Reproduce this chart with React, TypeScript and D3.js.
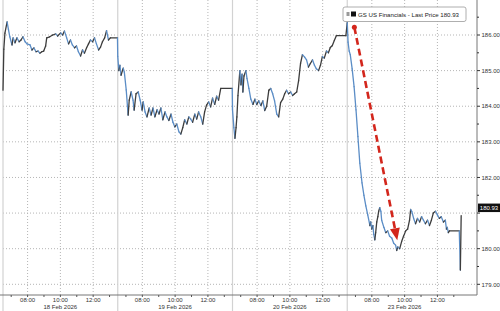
import React from "react";
import * as d3 from "d3";

const dayLabels = ["18 Feb 2026", "19 Feb 2026", "20 Feb 2026", "23 Feb 2026"];
const hourLabels = ["08:00", "10:00", "12:00"];
const priceTicks = [179, 180, 182, 183, 184, 185, 186];
const gridPrices = [179, 180, 181, 182, 183, 184, 185, 186];
const seriesName = "GS US Financials - Last Price";
const lastPrice = 180.93;

const day1: [string, number][] = [
  ["06:30", 184.45], ["06:33", 185.6], ["06:37", 186.05], ["06:45", 186.37], ["06:50", 186.15],
  ["06:55", 185.95], ["07:03", 185.72], ["07:07", 185.92], ["07:14", 185.78], ["07:21", 185.92],
  ["07:29", 185.81], ["07:36", 185.86], ["07:43", 185.95], ["07:51", 185.81], ["07:58", 185.75],
  ["08:09", 185.72], ["08:16", 185.58], ["08:23", 185.64], ["08:31", 185.53], ["08:38", 185.55],
  ["08:45", 185.49], ["08:52", 185.53], ["08:59", 185.55], ["09:06", 185.69], ["09:10", 185.92],
  ["09:21", 185.95], ["09:32", 186.0], ["09:43", 186.03], ["09:50", 185.97], ["10:01", 186.06],
  ["10:08", 186.0], ["10:15", 186.11], ["10:23", 185.92], ["10:30", 185.75], ["10:37", 185.86],
  ["10:44", 185.72], ["10:52", 185.64], ["10:59", 185.69], ["11:06", 185.53], ["11:14", 185.41],
  ["11:21", 185.58], ["11:28", 185.49], ["11:36", 185.64], ["11:43", 185.75], ["11:50", 185.86],
  ["11:58", 185.81], ["12:05", 185.92], ["12:12", 185.75], ["12:20", 185.58], ["12:27", 185.66],
  ["12:34", 185.81], ["12:42", 185.92], ["12:49", 186.12], ["12:56", 185.86], ["13:03", 185.92],
  ["13:29", 185.92],
];

const day2: [string, number][] = [
  ["06:30", 185.4], ["06:34", 185.0], ["06:38", 185.15], ["06:42", 184.87], ["06:50", 185.07],
  ["06:54", 184.96], ["07:01", 184.46], ["07:08", 183.75], ["07:12", 184.17], ["07:19", 184.4],
  ["07:26", 184.17], ["07:30", 183.89], ["07:37", 184.35], ["07:45", 184.4], ["07:52", 184.17],
  ["07:59", 183.89], ["08:03", 184.12], ["08:10", 183.84], ["08:17", 183.7], ["08:25", 183.95],
  ["08:32", 183.75], ["08:39", 183.95], ["08:46", 183.7], ["08:54", 183.9], ["09:01", 183.78],
  ["09:08", 183.95], ["09:15", 183.62], ["09:23", 183.84], ["09:30", 183.7], ["09:37", 183.6],
  ["09:45", 183.78], ["09:52", 183.55], ["09:59", 183.42], ["10:06", 183.5], ["10:14", 183.28],
  ["10:21", 183.22], ["10:28", 183.4], ["10:35", 183.62], ["10:43", 183.5], ["10:50", 183.7],
  ["10:57", 183.64], ["11:04", 183.55], ["11:12", 183.78], ["11:19", 183.64], ["11:26", 183.84],
  ["11:34", 183.7], ["11:41", 183.5], ["11:48", 183.84], ["11:55", 184.03], ["12:03", 184.12],
  ["12:10", 183.98], ["12:17", 184.23], ["12:25", 184.05], ["12:32", 184.28], ["12:39", 184.17],
  ["12:47", 184.5], ["13:29", 184.5],
];

const day3: [string, number][] = [
  ["06:30", 183.9], ["06:35", 183.4], ["06:39", 183.1], ["06:43", 183.4], ["06:46", 183.7],
  ["06:50", 184.3], ["06:57", 185.0], ["07:01", 184.6], ["07:05", 184.9], ["07:08", 184.4],
  ["07:12", 184.85], ["07:19", 185.0], ["07:23", 184.78], ["07:30", 184.5], ["07:37", 184.2],
  ["07:45", 184.05], ["07:52", 184.2], ["07:59", 184.05], ["08:06", 184.15], ["08:14", 184.02],
  ["08:21", 184.15], ["08:28", 183.88], ["08:35", 184.0], ["08:43", 184.45], ["08:50", 184.5],
  ["08:57", 184.35], ["09:04", 184.15], ["09:12", 183.78], ["09:19", 183.7], ["09:26", 184.1],
  ["09:34", 184.2], ["09:41", 184.35], ["09:48", 184.45], ["09:55", 184.35], ["10:03", 184.4],
  ["10:10", 184.3], ["10:17", 184.35], ["10:25", 184.4], ["10:32", 184.72], ["10:39", 185.2],
  ["10:46", 185.45], ["10:54", 185.38], ["11:01", 185.3], ["11:08", 185.1], ["11:15", 185.2],
  ["11:23", 185.3], ["11:30", 185.15], ["11:37", 185.05], ["11:45", 185.0], ["11:52", 185.15],
  ["11:59", 185.4], ["12:06", 185.35], ["12:14", 185.55], ["12:21", 185.5], ["12:28", 185.65],
  ["12:35", 185.7], ["12:43", 185.85], ["12:50", 185.98], ["13:25", 185.98],
];

const day4: [string, number][] = [
  ["06:30", 186.35], ["06:33", 185.8], ["06:37", 185.55], ["06:41", 185.45], ["06:48", 185.05],
  ["06:55", 184.55], ["07:02", 183.9], ["07:09", 183.15], ["07:16", 182.4], ["07:24", 181.85],
  ["07:31", 181.5], ["07:38", 181.2], ["07:45", 180.95], ["07:53", 180.65], ["07:56", 180.75],
  ["08:00", 180.55], ["08:04", 180.65], ["08:07", 180.4], ["08:11", 180.25], ["08:14", 180.45],
  ["08:18", 180.75], ["08:22", 180.9], ["08:25", 181.05], ["08:29", 181.15], ["08:33", 181.05],
  ["08:36", 180.8], ["08:44", 180.6], ["08:51", 180.45], ["08:58", 180.5], ["09:05", 180.35],
  ["09:13", 180.3], ["09:20", 180.15], ["09:27", 180.1], ["09:31", 179.95], ["09:35", 180.05],
  ["09:42", 180.0], ["09:49", 180.2], ["09:56", 180.35], ["10:04", 180.5], ["10:11", 180.55],
  ["10:18", 180.8], ["10:22", 181.1], ["10:26", 181.05], ["10:33", 180.85], ["10:40", 180.7],
  ["10:47", 180.85], ["10:55", 180.75], ["11:02", 180.9], ["11:09", 180.8], ["11:16", 180.7],
  ["11:24", 180.8], ["11:31", 180.65], ["11:38", 180.8], ["11:45", 181.0], ["11:53", 181.05],
  ["12:00", 180.95], ["12:07", 180.85], ["12:14", 180.9], ["12:22", 180.75], ["12:29", 180.8],
  ["12:33", 180.55], ["12:36", 180.6], ["12:40", 180.45], ["12:44", 180.5], ["13:20", 180.5],
  ["13:24", 179.4], ["13:27", 180.93],
];

const days = [day1, day2, day3, day4];

// annotation arrow in data coordinates: [dayIndex, time, price]
const arrowStart: [number, string, number] = [3, "06:56", 186.22];
const arrowEnd: [number, string, number] = [3, "09:33", 180.24];

const W = 500;
const H = 311;
const OPEN = 6.5;
const DAY_LEN = 7;

const toT = (d: number, time: string) => {
  const [h, m] = time.split(":").map(Number);
  return d * DAY_LEN + (h + m / 60 - OPEN);
};

export default function App() {
  const x = d3.scaleLinear().domain([0, DAY_LEN * days.length]).range([3, 462]);
  const y = d3.scaleLinear().domain([179, 186]).range([284.3, 35]);
  const axisX = 477;
  const axisY = 295;
  const font = "'Liberation Sans', Arial, sans-serif";

  const pts: { t: number; p: number }[] = [];
  days.forEach((dd, di) => dd.forEach(([tm, p]) => pts.push({ t: toT(di, tm), p })));

  const segs = pts.slice(1).map((b, i) => {
    const a = pts[i];
    return { a, b, down: b.p < a.p };
  });

  const ax1 = x(toT(arrowStart[0], arrowStart[1]));
  const ay1 = y(arrowStart[2]);
  const ax2 = x(toT(arrowEnd[0], arrowEnd[1]));
  const ay2 = y(arrowEnd[2]);
  const ang = Math.atan2(ay2 - ay1, ax2 - ax1);
  const headLen = 12;
  const headW = 5;
  const bx = ax2 - headLen * Math.cos(ang);
  const by = ay2 - headLen * Math.sin(ang);
  const px = -Math.sin(ang);
  const py = Math.cos(ang);
  const head = `M${ax2},${ay2} L${bx + px * headW},${by + py * headW} L${bx - px * headW},${by - py * headW} Z`;

  const minorTicks = d3.range(179, 186.6, 0.5);

  return (
    <svg width={W} height={H} style={{ position: "absolute", left: 0, top: 0, background: "#fff" }}>
      <rect width={W} height={H} fill="#fff" />
      {gridPrices.map((p) => (
        <line key={"h" + p} x1={3} x2={axisX} y1={y(p)} y2={y(p)} stroke="#b5b5b5" strokeDasharray="1,2" />
      ))}
      {days.map((_, di) =>
        hourLabels.map((hl) => {
          const xx = x(toT(di, hl));
          return <line key={"v" + di + hl} x1={xx} x2={xx} y1={0} y2={axisY} stroke="#b5b5b5" strokeDasharray="1,2" />;
        })
      )}
      {days.map((_, di) => {
        const xx = x(di * DAY_LEN);
        return <line key={"s" + di} x1={xx} x2={xx} y1={0} y2={H} stroke="#d2d2d2" strokeWidth={1.2} />;
      })}
      <line x1={0} x2={axisX} y1={axisY} y2={axisY} stroke="#777" />
      <line x1={axisX} x2={axisX} y1={0} y2={axisY} stroke="#777" />
      {minorTicks.map((p) => (
        <line key={"mt" + p} x1={axisX} x2={axisX + (Number.isInteger(p) ? 3 : 2)} y1={y(p)} y2={y(p)} stroke="#333" />
      ))}
      {priceTicks.map((p) => (
        <text key={"pl" + p} x={481.5} y={y(p) + 2.2} fontSize={6} fontFamily={font} fill="#333">
          {p.toFixed(2)}
        </text>
      ))}
      {days.map((_, di) =>
        d3.range(7, 14).map((h) => {
          const xx = x(toT(di, `${h}:00`));
          return <line key={"xt" + di + h} x1={xx} x2={xx} y1={axisY} y2={axisY + 2} stroke="#555" />;
        })
      )}
      {days.map((_, di) =>
        hourLabels.map((hl) => (
          <text key={"xl" + di + hl} x={x(toT(di, hl))} y={302} fontSize={6} fontFamily={font} fill="#333" textAnchor="middle">
            {hl}
          </text>
        ))
      )}
      {dayLabels.map((dl, di) => (
        <text key={"dl" + di} x={x(di * DAY_LEN + DAY_LEN / 2)} y={309} fontSize={6} fontFamily={font} fill="#333" textAnchor="middle">
          {dl}
        </text>
      ))}
      {segs.map((s, i) => (
        <line
          key={"seg" + i}
          x1={x(s.a.t)}
          y1={y(s.a.p)}
          x2={x(s.b.t)}
          y2={y(s.b.p)}
          stroke={s.down ? "#5b8dc6" : "#3d3d3d"}
          strokeWidth={1.3}
          strokeLinecap="round"
        />
      ))}
      <line x1={ax1} y1={ay1} x2={bx} y2={by} stroke="#d3261c" strokeWidth={2.6} strokeDasharray="7,4" />
      <circle cx={ax1} cy={ay1} r={2.5} fill="#d3261c" />
      <path d={head} fill="#d3261c" />
      <rect x={343} y={7} width={123} height={14.5} rx={2} fill="#fff" stroke="#9a9a9a" strokeWidth={0.8} />
      <rect x={346.5} y={12} width={3} height={4} fill="#999" />
      <rect x={351} y={11.5} width={5} height={5} fill="#111" />
      <text x={358} y={16.6} fontSize={6.1} fontFamily={font} fill="#222">
        {`${seriesName} ${lastPrice.toFixed(2)}`}
      </text>
      <rect x={478} y={y(lastPrice) - 12} width={22} height={8.5} fill="#111" />
      <text x={489} y={y(lastPrice) - 5.6} fontSize={6} fontFamily={font} fill="#fff" textAnchor="middle">
        {lastPrice.toFixed(2)}
      </text>
    </svg>
  );
}
